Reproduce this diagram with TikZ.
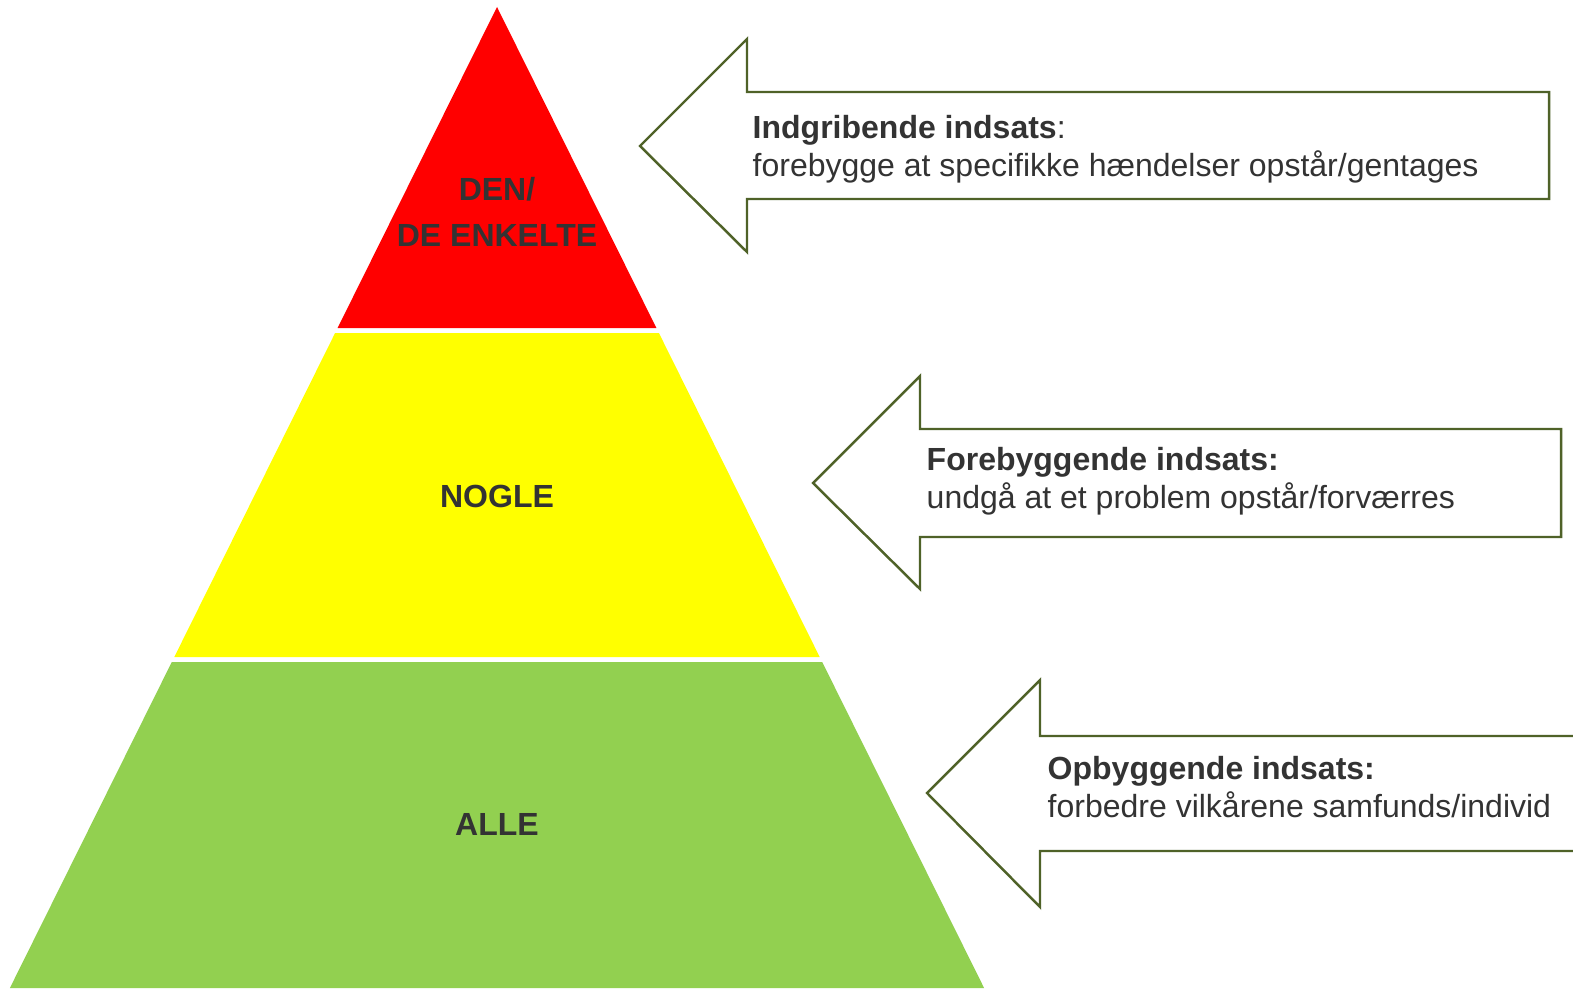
\documentclass[tikz,border=0pt]{standalone}
\usepackage{fontspec}
\setmainfont{Liberation Sans}
\usetikzlibrary{positioning}
\definecolor{LevelRed}{RGB}{255,0,0}
\definecolor{LevelYellow}{RGB}{255,255,0}
\definecolor{LevelGreen}{RGB}{146,208,80}
\definecolor{ArrowLine}{RGB}{79,98,40}
\definecolor{Ink}{RGB}{51,51,51}
\tikzset{
  layer/.style={draw=none},
  callout/.style={draw=ArrowLine,line width=0.7pt,fill=white,line join=miter},
  level/.style={font=\fontsize{9.1}{13.3}\selectfont\bfseries,text=Ink,align=center,inner sep=0pt},
  effort/.style={font=\fontsize{9.1}{10.8}\selectfont,text=Ink,align=left,anchor=west,inner sep=0pt}
}
\begin{document}
\begin{tikzpicture}[x=0.01cm,y=-0.01cm]
  \clip (0,0) rectangle (1573,988);
  \fill[white] (0,0) rectangle (1573,988);
  % pyramid
  \fill[LevelRed] (497,7) -- (656.4,328) -- (337.6,328) -- cycle;
  \fill[LevelYellow] (335.1,333) -- (658.9,333) -- (819.7,657) -- (174.3,657) -- cycle;
  \fill[LevelGreen] (171.8,662) -- (822.2,662) -- (984.1,988) -- (9.9,988) -- cycle;
  \node[level] (few) at (497,212) {DEN/\\DE ENKELTE};
  \node[level] (some) at (497,496) {NOGLE};
  \node[level] (all) at (497,824) {ALLE};
  % arrows
  \draw[callout] (640,146) -- (747,39) -- (747,92) -- (1549,92) -- (1549,199) -- (747,199) -- (747,252) -- cycle;
  \draw[callout] (813,483) -- (920,376) -- (920,429) -- (1561,429) -- (1561,537) -- (920,537) -- (920,589) -- cycle;
  \draw[callout] (927,793) -- (1040,680) -- (1040,736) -- (1600,736) -- (1600,851) -- (1040,851) -- (1040,907) -- cycle;
  \node[effort] (intervene) at (752,149) {\textbf{Indgribende indsats}:\\forebygge at specifikke hændelser opstår/gentages};
  \node[effort] (prevent) at (926,481.5) {\textbf{Forebyggende indsats:}\\undgå at et problem opstår/forværres};
  \node[effort] (build) at (1047,787.5) {\textbf{Opbyggende indsats:}\\forbedre vilkårene samfunds/individ};
\end{tikzpicture}
\end{document}
